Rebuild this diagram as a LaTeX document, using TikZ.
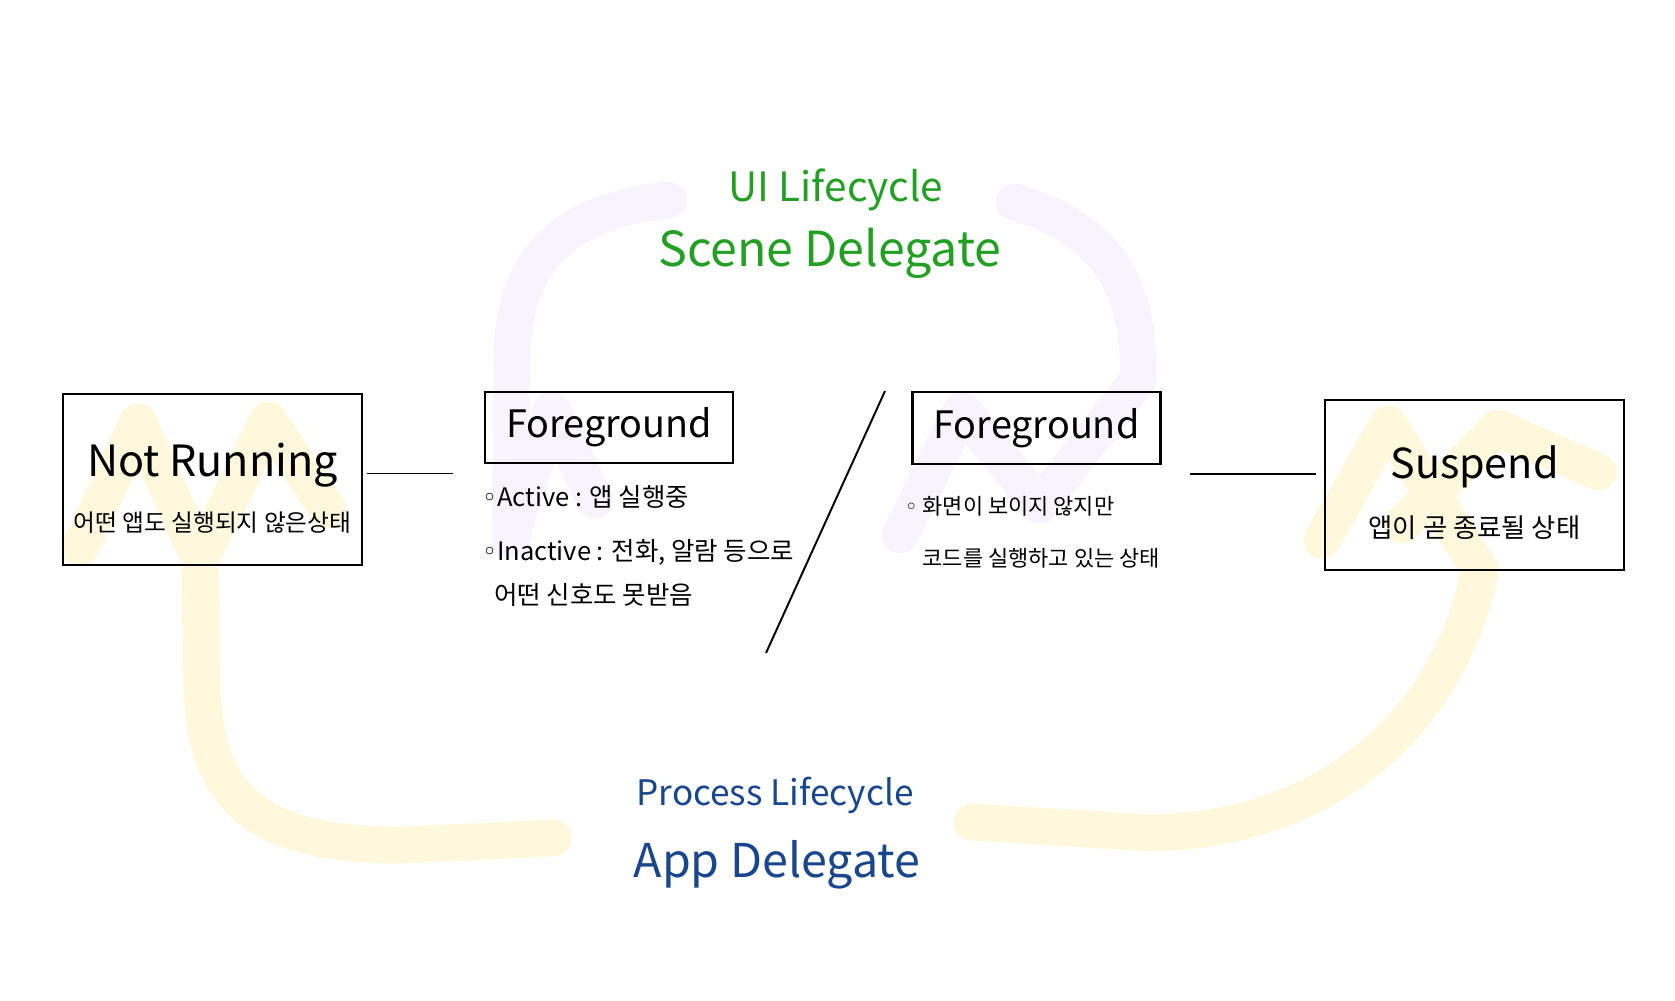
\documentclass[tikz,border=0pt]{standalone}
\usepackage{fontspec}
\setmainfont{Noto Sans CJK KR}
\newfontfamily\symfont{DejaVu Sans}
\usepackage{tikz}
\usetikzlibrary{positioning, calc}

\definecolor{hiyellow}{HTML}{FFF8DC}
\definecolor{hililac}{HTML}{F8F4FF}
\definecolor{scenegreen}{HTML}{23A023}
\definecolor{appblue}{HTML}{19468C}

\newcommand{\hollowdot}{{\symfont ◦}}

\begin{document}
\begin{tikzpicture}[
        x=0.02cm, y=-0.02cm,
        state/.style={
            draw,
            line width=1.3pt,
            align=center,
            inner sep=0pt,
            minimum width=5.98cm,
            minimum height=3.42cm,
            font=\fontsize{13.5}{16}\selectfont
        },
        phase/.style={
            draw,
            line width=1.3pt,
            inner sep=0pt,
            minimum width=4.96cm,
            minimum height=1.43cm,
            font=\fontsize{21.5}{26}\selectfont
        },
        note/.style={align=left, inner sep=0pt, font=\fontsize{14.5}{23.3}\selectfont},
        heading/.style={inner sep=0pt},
        scene/.style={heading, text=scenegreen},
        app/.style={heading, text=appblue},
        glow/.style={line width=21pt, line cap=round, line join=round},
        link/.style={line width=1.1pt}
    ]

        % 배경
        \fill[white] (0,0) rectangle (1675,1000);

        % 형광펜 (노랑)
        \draw[glow, hiyellow] (80,548) -- (138,422) -- (200,560) -- (268,420) -- (328,510);
        \draw[glow, hiyellow] (200,560) -- (202,690) .. controls (206,805) and (265,845) .. (400,845) -- (553,838);
        \draw[glow, hiyellow] (1322,540) -- (1388,424) -- (1480,570) .. controls (1450,720) and (1330,830) .. (1150,833) -- (972,822);
        \draw[glow, hiyellow] (1402,525) -- (1498,428) -- (1598,472);

        % 형광펜 (보라)
        \draw[glow, hililac] (668,200) .. controls (560,212) and (513,262) .. (512,360) -- (510,540) -- (552,410) -- (595,500);
        \draw[glow, hililac] (900,535) -- (962,410) -- (1040,505) -- (1138,380) .. controls (1142,272) and (1092,224) .. (1014,202);

        % 상태 박스
        \node[state] (notrun) at (212.5,479.5)
            {{\fontsize{24.5}{30}\selectfont\rule{0pt}{29pt}Not Running}\\[13.5pt]어떤 앱도 실행되지 않은상태};

        \node[phase] (fg1) at (609,427.5) {Foreground};

        \node[phase] (fg2) at (1036.5,428) {Foreground};

        \node[state, minimum height=3.4cm, font=\fontsize{15}{18}\selectfont] (suspend) at (1474.5,485)
            {{\fontsize{23.5}{28}\selectfont\rule{0pt}{27.5pt}Suspend}\\[16pt]앱이 곧 종료될 상태};

        % 설명
        \node[note, below=0.42cm of fg1.south west, anchor=north west, xshift=-0.04cm]
            (fgnote1) {\hollowdot Active : 앱 실행중\\[7.5pt]\hollowdot Inactive : 전화, 알람 등으로\\[1.5pt]\hspace*{0.24cm}어떤 신호도 못받음};

        \node[note, font=\fontsize{12.5}{29.6}\selectfont, below=0.62cm of fg2.south west, anchor=north west, xshift=-0.14cm]
            (fgnote2) {\hollowdot{} 화면이 보이지 않지만\\\hspace*{0.36cm}코드를 실행하고 있는 상태};

        % 제목
        \node[scene, font=\fontsize{23}{27}\selectfont] (uilife) at (836,190) {UI Lifecycle};
        \node[scene, font=\fontsize{27.5}{32}\selectfont] (scenedel) at (830,253) {Scene Delegate};

        \node[app, font=\fontsize{20}{24}\selectfont] (proclife) at (775,795) {Process Lifecycle};
        \node[app, font=\fontsize{26.5}{31}\selectfont] (appdel) at (777,865) {App Delegate};

        % 연결선
        \draw[link, shorten <=0.08cm, shorten >=0.62cm] ([yshift=3.4pt]notrun.east) -- ([yshift=3.4pt]notrun.east -| fg1.west);
        \draw[link, shorten <=0.56cm, shorten >=0.16cm] ([yshift=6pt]suspend.west -| fg2.east) -- ([yshift=6pt]suspend.west);

        % 구분선
        \coordinate (cuttop) at (885,391);
        \coordinate (cutbot) at (766,653);
        \draw[link] (cuttop) -- (cutbot);

    \end{tikzpicture}
\end{document}
